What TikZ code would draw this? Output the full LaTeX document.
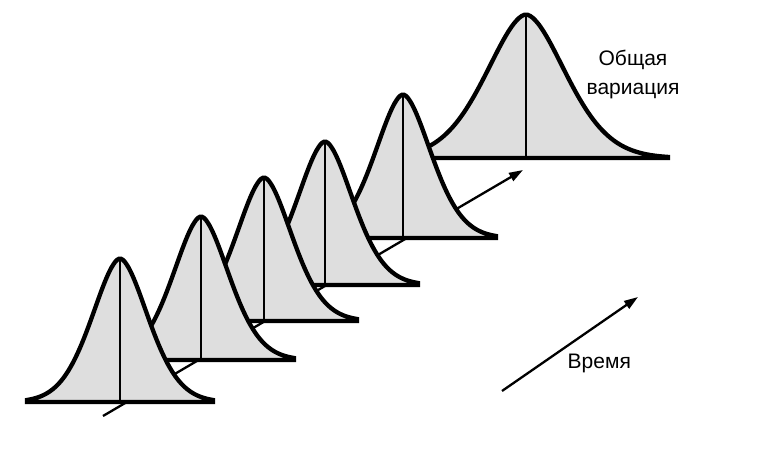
\documentclass[tikz,border=0pt]{standalone}
\usepackage{fontspec}
\setmainfont{Liberation Sans}
\usetikzlibrary{arrows.meta}
\definecolor{bellfill}{RGB}{222,222,222}
\tikzset{
  bell/.style={fill=bellfill, draw=black, line width=4.3pt},
  midline/.style={draw=black, line width=2.7pt},
  axisline/.style={draw=black, line width=2.3pt, -{Triangle[length=14pt,width=9pt]}},
  lbl/.style={font=\fontsize{21}{29}\selectfont, align=center, inner sep=0pt}
}
\begin{document}
\begin{tikzpicture}[x=1pt,y=-1pt]
\useasboundingbox (0,0) rectangle (764,454);
% time axis (behind the distributions)
\coordinate (axstart) at (103,416);
\coordinate (axend) at (523,170);
\draw[axisline] (axstart) -- (axend);
% distributions, back to front
\foreach \cx/\cy/\a/\w in {526/158/57.4/142, 403/238/40.6/93, 325/285/40.6/93, 264/321/40.6/93, 201/360/40.6/93, 120/402/40.6/93} {
  \draw[bell] (\cx-\w,\cy) -- plot[domain=-\w:\w, samples=100, smooth] ({\cx+\x},{\cy-143.5*exp(-((abs(\x)+0.001)/\a)^1.75)}) -- (\cx+\w,\cy) -- cycle;
  \draw[midline] (\cx,\cy) -- (\cx,\cy-143.5);
}
% labels
\node[lbl, anchor=north] (total) at (633,50) {Общая\\вариация};
\coordinate (tstart) at (502,391);
\coordinate (tend) at (638,297);
\draw[axisline] (tstart) -- (tend);
\node[lbl, anchor=base west] (time) at (567.5,369) {Время};
\end{tikzpicture}
\end{document}
